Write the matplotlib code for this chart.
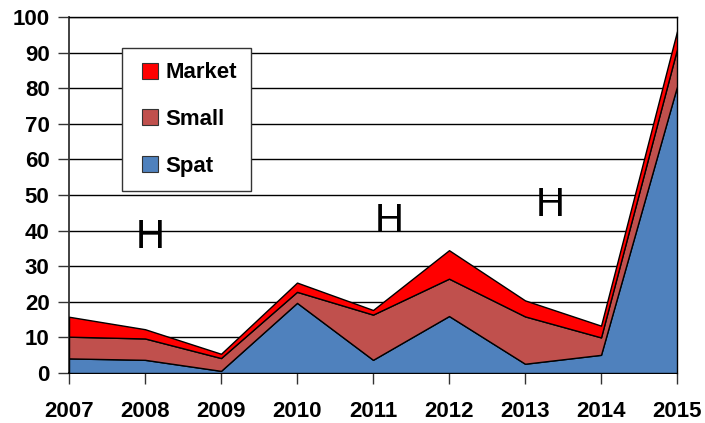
import matplotlib.pyplot as plt
from matplotlib.lines import Line2D

plt.rcParams['font.family'] = ['Liberation Sans', 'DejaVu Sans']

years = [2007, 2008, 2009, 2010, 2011, 2012, 2013, 2014, 2015]
spat = [4.1, 3.7, 0.6, 19.7, 3.7, 16.0, 2.6, 5.1, 80.5]
small = [6.1, 6.0, 3.6, 3.1, 12.7, 10.5, 13.3, 4.9, 10.5]
market = [5.6, 2.6, 1.2, 2.6, 1.3, 8.0, 4.5, 3.3, 5.0]
labels = ['Spat', 'Small', 'Market']
colors = ['#4f81bd', '#c0504d', '#ff0000']

# "H" markers as placed in the original
h_x = [2008.07, 2011.21, 2013.33]
h_y = [38.1, 42.6, 47.1]

fig = plt.figure(figsize=(7.05, 4.23), dpi=100)
ax = fig.add_axes([0.0979, 0.1182, 0.8624, 0.8416])

ax.stackplot(years, spat, small, market, colors=colors,
             edgecolor='black', linewidth=1.0, zorder=3)

ax.set_xlim(2007, 2015)
ax.set_ylim(0, 100)
ax.set_yticks(range(0, 101, 10))
ax.set_xticks(years)
ax.grid(axis='y', color='black', linewidth=1.0, zorder=0)
ax.set_axisbelow(True)

for s in ['top', 'right']:
    ax.spines[s].set_color('black')
    ax.spines[s].set_linewidth(1.0)
ax.spines['left'].set_color('#333333')
ax.spines['bottom'].set_color('black')
ax.spines['left'].set_linewidth(1.3)
ax.spines['bottom'].set_linewidth(1.3)

ax.tick_params(axis='both', direction='out', length=8, width=1.0,
               color='#333333', labelsize=16)
ax.tick_params(axis='x', pad=12)
ax.tick_params(axis='y', pad=6)
for lab in ax.get_xticklabels() + ax.get_yticklabels():
    lab.set_fontweight('bold')

for x, y in zip(h_x, h_y):
    ax.text(x, y, 'H', fontsize=29, ha='center', va='center', zorder=5)

handles = [Line2D([], [], linestyle='none', marker='s', markersize=11,
                  markerfacecolor=colors[i], markeredgecolor='#333333',
                  markeredgewidth=0.8, label=labels[i]) for i in [2, 1, 0]]
leg = ax.legend(handles=handles, loc='upper left',
                bbox_to_anchor=(0.0872, 0.9129), fancybox=False,
                framealpha=1, edgecolor='#333333', handlelength=1.2,
                handletextpad=0.1, labelspacing=1.15,
                borderpad=0.65, borderaxespad=0,
                prop={'size': 16, 'weight': 'bold'})
leg.get_frame().set_linewidth(1.0)
leg.set_zorder(6)

fig.savefig('out.png', dpi=100)
